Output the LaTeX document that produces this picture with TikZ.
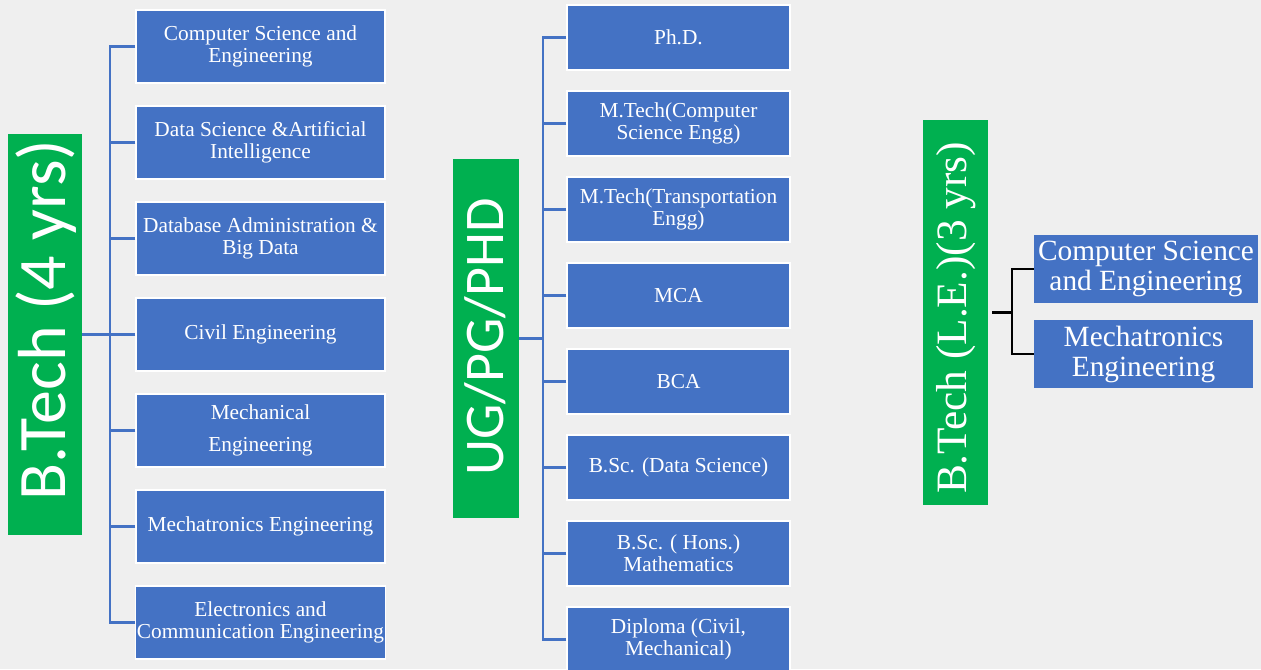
\documentclass[tikz,border=0pt]{standalone}
\usepackage{fontspec}
\setmainfont{Liberation Serif}
\newfontfamily\calibri{Carlito}
\definecolor{bg}{HTML}{EFEFEF}
\definecolor{gr}{HTML}{00B050}
\definecolor{bl}{HTML}{4472C4}
\tikzset{
  greenbox/.style={fill=gr, draw=none, inner sep=0pt, rectangle},
  glabel/.style={text=white, inner sep=0pt, rotate=90, anchor=center},
  bbox/.style={fill=bl, draw=white, line width=0.8pt, text=white, align=center, inner sep=1pt,
    font=\fontsize{16}{16.5}\selectfont},
  lbox/.style={bbox, minimum width=186.75pt, minimum height=54.75pt},
  mbox/.style={bbox, minimum width=167.25pt, minimum height=48.75pt},
  rbox/.style={fill=bl, draw=none, text=white, align=center, inner sep=1pt,
    font=\fontsize{22}{22.5}\selectfont, minimum height=51pt},
  conn/.style={draw=bl, line width=2pt},
  connk/.style={draw=black, line width=1.6pt},
}
\begin{document}
\begin{tikzpicture}[x=0.75pt, y=-0.75pt]
\useasboundingbox[fill=bg] (0,0) rectangle (1261,669);
% ---------- left group ----------
\node[greenbox, minimum width=55.5pt, minimum height=300.75pt] (g1) at (45,334.5) {};
\node[glabel, font=\calibri\fontsize{51}{52}\selectfont] (l1) at (46,320) {B.Tech (4 yrs)};
\coordinate (t1) at (110,334.5);
\node[lbox] (a1) at (260.5,46.5) {Computer Science and\\Engineering};
\node[lbox] (a2) at (260.5,142.5) {Data Science \&Artificial\\Intelligence};
\node[lbox] (a3) at (260.5,238.5) {Database Administration \&\\Big Data};
\node[lbox] (a4) at (260.5,334.5) {Civil Engineering};
\node[lbox] (a5) at (260.5,430.5) {Mechanical\\[8pt]Engineering};
\node[lbox] (a6) at (260.5,526.5) {Mechatronics Engineering};
\node[lbox] (a7) at (260.5,622.5) {Electronics and\\Communication Engineering};
\draw[conn] (g1.east) -- (t1);
\foreach \n in {a1,a2,a3,a4,a5,a6,a7} \draw[conn] (\n.west) -| (t1);
% ---------- middle group ----------
\node[greenbox, minimum width=49.5pt, minimum height=269.25pt] (g2) at (486,338.5) {};
\node[glabel, font=\calibri\fontsize{42}{43}\selectfont] (l2) at (485,337) {UG/PG/PHD};
\coordinate (t2) at (543,338.5);
\node[mbox] (m1) at (678.5,37.5) {Ph.D.};
\node[mbox] (m2) at (678.5,123.5) {M.Tech(Computer\\Science Engg)};
\node[mbox] (m3) at (678.5,209.5) {M.Tech(Transportation\\Engg)};
\node[mbox] (m4) at (678.5,295.5) {MCA};
\node[mbox] (m5) at (678.5,381.5) {BCA};
\node[mbox] (m6) at (678.5,467.5) {B.Sc. (Data Science)};
\node[mbox] (m7) at (678.5,553.5) {B.Sc. ( Hons.)\\Mathematics};
\node[mbox] (m8) at (678.5,639.5) {Diploma (Civil,\\Mechanical)};
\draw[conn] (g2.east) -- (t2);
\foreach \n in {m1,m2,m3,m4,m5,m6,m7,m8} \draw[conn] (\n.west) -| (t2);
% ---------- right group ----------
\node[greenbox, minimum width=48.75pt, minimum height=288.75pt] (g3) at (955.5,312.5) {};
\node[glabel, font=\fontsize{32.5}{33}\selectfont] (l3) at (956,318) {B.Tech (L.E.)(3 yrs)};
\coordinate (t3) at (1012,312.5);
\node[rbox, minimum width=168pt] (r1) at (1146,269) {Computer Science\\and Engineering};
\node[rbox, minimum width=164.25pt] (r2) at (1143.5,354) {Mechatronics\\Engineering};
\draw[connk] ([xshift=3pt]g3.east) -- (t3);
\draw[connk] (r1.west) -| (t3);
\draw[connk] (r2.west) -| (t3);
\end{tikzpicture}
\end{document}
